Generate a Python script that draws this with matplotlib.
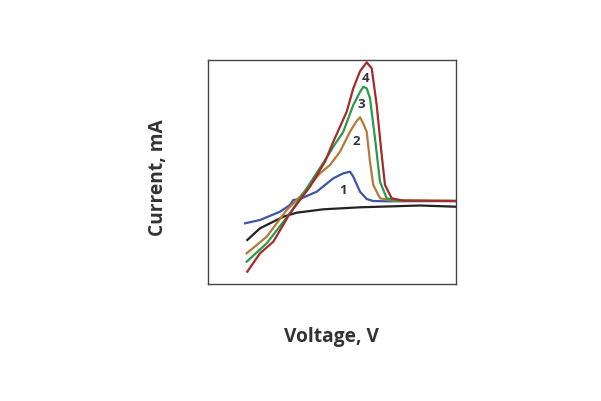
import numpy as np
import matplotlib.pyplot as plt

# curves (arbitrary units, x 0..248, y 0..224)
x_base = [39.3, 52, 75.3, 88.7, 115.3, 152, 212, 247]
y_base = [44, 55.7, 67.3, 71.3, 74.7, 76.7, 78.5, 77.3]

x_1 = [37, 52, 72, 82, 85.3, 92, 108.7, 125.3, 135.3, 142, 145.3, 152, 158.7, 165, 178.7, 247]
y_1 = [60.7, 64, 72.3, 79, 84, 85, 92.3, 105.7, 110.7, 112.3, 107.3, 92.3, 85, 83, 82.7, 83]

x_2 = [38.7, 58.7, 78.7, 95.3, 112, 122, 132, 142, 148.7, 152, 155, 158.7, 162, 165.3, 172, 185.3, 247]
y_2 = [30.7, 47.3, 74, 90.7, 110.7, 119, 132.3, 152.3, 163, 166.7, 161, 152.3, 122.3, 99, 85.7, 83.3, 83]

x_3 = [38.7, 58.7, 82, 102, 120.3, 125.3, 135.3, 145.3, 152, 155.3, 158.7, 162, 167, 172, 178.7, 190, 247]
y_3 = [22.3, 40.7, 70.7, 100.7, 129, 137.3, 152.3, 179, 192, 197.3, 195.7, 185.7, 145.7, 102.3, 85.7, 83.3, 83]

x_4 = [39.3, 52, 65.3, 82, 102, 117, 125.3, 138.7, 145.3, 152, 158.7, 163.7, 168.7, 173.7, 177, 183.7, 195, 247]
y_4= [12.3, 30.7, 42.3, 70.7, 97.3, 122.3, 142.3, 172.3, 195.7, 212.7, 221.7, 215.7, 179, 129, 99, 85.7, 83.5, 83]

labels = ['1', '2', '3', '4']
label_x = [135.3, 148.7, 153.7, 157.7]
label_y = [94, 142.3, 179, 205.7]

fig = plt.figure(figsize=(6.01, 4.01), dpi=100)
ax = fig.add_axes([208/601, 117/401, 248/601, 224/401])

ax.plot(x_base, y_base, color='#222222', lw=1.6)
ax.plot(x_1, y_1, color='#3b56a3', lw=1.6)
ax.plot(x_2, y_2, color='#b5793a', lw=1.6)
ax.plot(x_3, y_3, color='#2a9a4c', lw=1.6)
ax.plot(x_4, y_4, color='#a52a2a', lw=1.6)

for t, lx, ly in zip(labels, label_x, label_y):
    ax.text(lx, ly, t, ha='center', va='center', fontsize=9.5,
            fontweight='bold', color='#333333', family='Open Sans')

ax.set_xlim(0, 248)
ax.set_ylim(0, 224)
ax.set_xticks([])
ax.set_yticks([])
for s in ax.spines.values():
    s.set_color('#444444')
    s.set_linewidth(1.0)

fig.text(331/601, 1 - 337/401, 'Voltage, V', ha='center', va='center',
         fontsize=13.8, fontweight='bold', color='#333333', family='Open Sans')
fig.text(158/601, 1 - 178/401, 'Current, mA', ha='center', va='center',
         rotation=90, fontsize=13.8, fontweight='bold', color='#333333', family='Open Sans')

fig.savefig('out.png', dpi=100)
